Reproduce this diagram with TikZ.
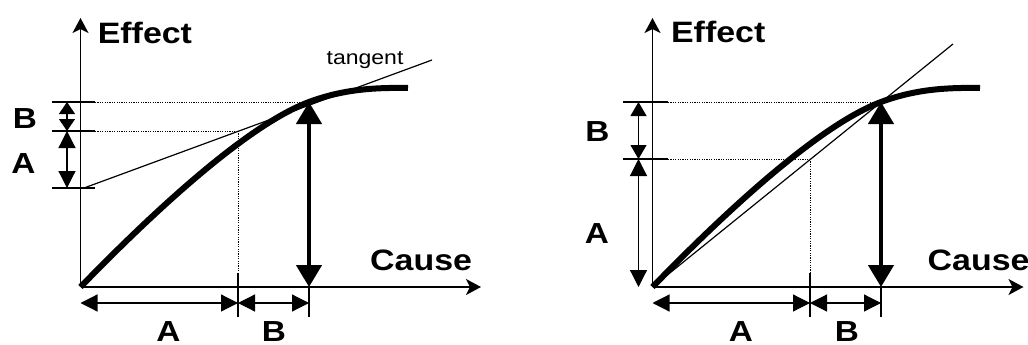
\documentclass[tikz,border=0pt]{standalone}
\usepackage{fontspec}
\setmainfont{Liberation Sans}[FakeStretch=1.15]
\usetikzlibrary{arrows.meta}
\begin{document}
\begin{tikzpicture}[x=1pt,y=-1pt,
  axisln/.style={line width=1.5pt,-{Stealth[length=15pt,width=16pt,inset=4pt]}},
  thinln/.style={line width=1.2pt},
  dotln/.style={line width=1pt,dash pattern=on 1.2pt off 1.2pt},
  dimarrow/.style={line width=1.2pt,{Triangle[length=17pt,width=17pt]}-{Triangle[length=17pt,width=17pt]}},
  smallarrow/.style={line width=1.2pt,{Triangle[length=12pt,width=16pt]}-{Triangle[length=12pt,width=16pt]}},
  midarrow/.style={line width=1.2pt,{Triangle[length=14pt,width=16pt]}-{Triangle[length=14pt,width=16pt]}},
  thickarrow/.style={line width=4.5pt,{Triangle[length=22pt,width=25pt]}-{Triangle[length=22pt,width=25pt]}},
  curveln/.style={line width=6pt,line cap=butt},
  biglab/.style={font=\fontsize{29.5}{32}\selectfont\bfseries,inner sep=0pt},
  letlab/.style={font=\fontsize{29}{32}\selectfont\bfseries,inner sep=0pt,anchor=base},
  smalllab/.style={font=\fontsize{20}{22}\selectfont,inner sep=0pt,anchor=base west}
]
\useasboundingbox (0,0) rectangle (1028,345);

% ================= LEFT PANEL =================
\coordinate (O1) at (80.5,287);
\coordinate (Y1) at (80.5,18);
\coordinate (X1) at (481,287);
\coordinate (T1a) at (52,102);
\coordinate (T1b) at (95,102);
\coordinate (P1) at (309,102);
\coordinate (M1a) at (52,131);
\coordinate (M1b) at (95,131);
\coordinate (M1) at (238,131);
\coordinate (L1a) at (52,188);
\coordinate (L1b) at (95,188);
\coordinate (VA1) at (67,102);
\coordinate (VB1) at (67,131);
\coordinate (VC1) at (67,188);
\coordinate (D1) at (238,273);
\coordinate (D1b) at (238,317);
\coordinate (Q1) at (309,287);
\coordinate (Q1b) at (309,317);
\coordinate (H10) at (80.5,303);
\coordinate (H11) at (238,303);
\coordinate (H12) at (309,303);
\coordinate (TS1) at (84,188);
\coordinate (TE1) at (432,60);
\coordinate (E1) at (408,88);

\draw[axisln] (O1) -- (Y1);
\draw[axisln] (O1) -- (X1);
\draw[thinln] (T1a) -- (T1b);
\draw[thinln] (M1a) -- (M1b);
\draw[thinln] (L1a) -- (L1b);
\draw[dotln] (T1b) -- (P1);
\draw[dotln] (M1b) -- (M1);
\draw[dotln] (M1) -- (D1);
\draw[thinln] (D1) -- (D1b);
\draw[thinln] (Q1) -- (Q1b);
\draw[smallarrow] (VA1) -- (VB1);
\draw[dimarrow] (VB1) -- (VC1);
\draw[dimarrow] (H10) -- (H11);
\draw[dimarrow] (H11) -- (H12);
\draw[thinln] (TS1) -- (TE1);
\draw[thickarrow] (Q1) -- (P1);
\draw[curveln] (O1) .. controls (160,205) and (250,124) .. (P1)
   .. controls (344,89) and (375,87.5) .. (E1);

\node[biglab,anchor=base west] (eff1) at (97.6,43.3) {Effect};
\node[biglab,anchor=base west] (cau1) at (370,270) {Cause};
\node[smalllab] (tan1) at (326.5,64) {tangent};
\node[letlab] (lb1) at (25,128) {B};
\node[letlab] (la1) at (23.5,173) {A};
\node[letlab] (ba1) at (168.5,341) {A};
\node[letlab] (bb1) at (274,341) {B};

% ================= RIGHT PANEL =================
\coordinate (O2) at (652.5,287);
\coordinate (Y2) at (652.5,18);
\coordinate (X2) at (1023.5,287);
\coordinate (T2a) at (623,102);
\coordinate (T2b) at (668,102);
\coordinate (P2) at (881,102);
\coordinate (M2a) at (623,159);
\coordinate (M2b) at (668,159);
\coordinate (M2) at (810,159);
\coordinate (VA2) at (638.5,102);
\coordinate (VB2) at (638.5,159);
\coordinate (VC2) at (638.5,287);
\coordinate (D2) at (810,273);
\coordinate (D2b) at (810,317);
\coordinate (Q2) at (881,287);
\coordinate (Q2b) at (881,317);
\coordinate (H20) at (652.5,303);
\coordinate (H21) at (810,303);
\coordinate (H22) at (881,303);
\coordinate (SE2) at (953,44);
\coordinate (E2) at (980,88);

\draw[axisln] (O2) -- (Y2);
\draw[axisln] (O2) -- (X2);
\draw[thinln] (T2a) -- (T2b);
\draw[thinln] (M2a) -- (M2b);
\draw[dotln] (T2b) -- (P2);
\draw[dotln] (M2b) -- (M2);
\draw[dotln] (M2) -- (D2);
\draw[thinln] (D2) -- (D2b);
\draw[thinln] (Q2) -- (Q2b);
\draw[midarrow] (VA2) -- (VB2);
\draw[dimarrow] (VB2) -- (VC2);
\draw[dimarrow] (H20) -- (H21);
\draw[dimarrow] (H21) -- (H22);
\draw[thinln] (O2) -- (SE2);
\draw[thickarrow] (Q2) -- (P2);
\draw[curveln] (O2) .. controls (732,205) and (822,124) .. (P2)
   .. controls (916,89) and (947,87.5) .. (E2);

\node[biglab,anchor=base west] (eff2) at (670.9,42.7) {Effect};
\node[biglab,anchor=base west] (cau2) at (927.5,270) {Cause};
\node[letlab] (lb2) at (597.5,141.7) {B};
\node[letlab] (la2) at (597,243.3) {A};
\node[letlab] (ba2) at (741,341) {A};
\node[letlab] (bb2) at (847,341) {B};
\end{tikzpicture}
\end{document}
